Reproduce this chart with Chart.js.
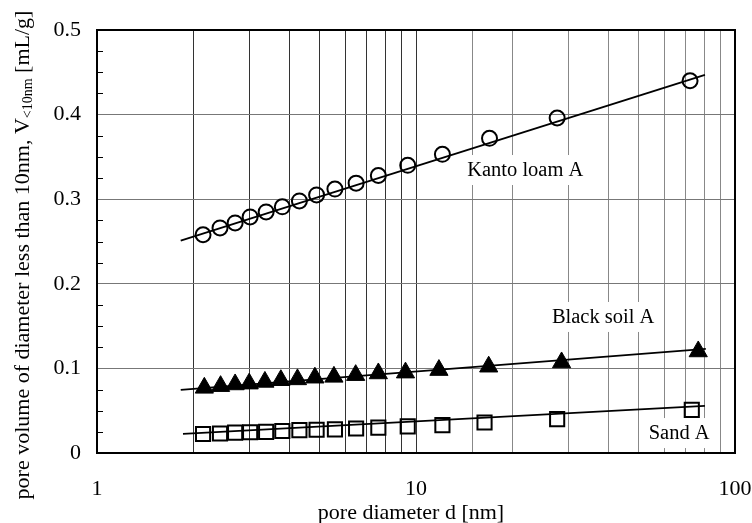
<!DOCTYPE html>
<html><head><meta charset="utf-8">
<script src="https://cdn.jsdelivr.net/npm/chart.js@4.4.0/dist/chart.umd.min.js"></script>
<style>html,body{margin:0;padding:0;background:#fff;}</style>
</head><body>
<canvas id="c" width="752" height="523"></canvas>
<script>
// ---- data ----
const kantoX = [2.15, 2.43, 2.71, 3.02, 3.39, 3.81, 4.31, 4.88, 5.57, 6.49, 7.62, 9.42, 12.1, 17.0, 27.7, 72.3];
const kantoY = [0.258, 0.266, 0.272, 0.279, 0.285, 0.291, 0.298, 0.305, 0.312, 0.319, 0.328, 0.340, 0.353, 0.372, 0.396, 0.440];
const blackX = [2.17, 2.44, 2.71, 3.00, 3.36, 3.77, 4.25, 4.82, 5.53, 6.47, 7.62, 9.27, 11.8, 16.9, 28.6, 76.7];
const blackY = [0.077, 0.079, 0.081, 0.082, 0.084, 0.086, 0.087, 0.089, 0.090, 0.092, 0.094, 0.095, 0.098, 0.102, 0.107, 0.120];
const sandX  = [2.15, 2.43, 2.71, 3.02, 3.39, 3.81, 4.31, 4.88, 5.57, 6.49, 7.62, 9.42, 12.1, 16.4, 27.7, 73.2];
const sandY  = [0.0225, 0.023, 0.024, 0.0245, 0.025, 0.026, 0.027, 0.0275, 0.028, 0.029, 0.030, 0.0315, 0.033, 0.036, 0.040, 0.051];
const kantoFitX = [1.83, 80.5], kantoFitY = [0.251, 0.447];
const blackFitX = [1.83, 81.0], blackFitY = [0.0745, 0.123];
const sandFitX  = [1.86, 80.5], sandFitY  = [0.0225, 0.0556];
const xTickLabels = [1, 10, 100];
const yTickLabels = [0, 0.1, 0.2, 0.3, 0.4, 0.5];
const seriesLabels = [
  {text: 'Kanto loam A', x: 22.0, y: 0.3345},
  {text: 'Black soil A', x: 38.6, y: 0.1608},
  {text: 'Sand A', x: 66.8, y: 0.0236}
];
const xTitle = 'pore diameter d [nm]';
const yTitleMain = 'pore volume of diameter less than 10nm, V';
const yTitleSub = '<10nm';
const yTitleEnd = ' [mL/g]';

const FONT = '"Liberation Serif", "Times New Roman", serif';
const pts = (xs, ys) => xs.map((x, i) => ({x, y: ys[i]}));
const isMajorY = v => Math.abs(Math.round(v * 10) - v * 10) < 1e-6;

const decor = {
  id: 'decor',
  afterDatasetsDraw(chart) {
    const ctx = chart.ctx, xs = chart.scales.x, ys = chart.scales.y;
    ctx.save();
    ctx.font = '20.5px ' + FONT;
    ctx.textAlign = 'center';
    ctx.textBaseline = 'middle';
    seriesLabels.forEach(l => {
      const px = xs.getPixelForValue(l.x), py = ys.getPixelForValue(l.y);
      const w = ctx.measureText(l.text).width;
      ctx.fillStyle = '#fff';
      ctx.fillRect(px - w / 2 - 4, py - 15, w + 8, 30);
      ctx.fillStyle = '#000';
      ctx.fillText(l.text, px, py + 1);
    });
    ctx.restore();
  },
  afterDraw(chart) {
    const ctx = chart.ctx, a = chart.chartArea, ys = chart.scales.y;
    ctx.save();
    ctx.strokeStyle = '#000';
    ctx.lineWidth = 1;
    ys.ticks.forEach(t => {
      if (!isMajorY(t.value)) {
        const py = Math.round(ys.getPixelForValue(t.value)) + 0.5;
        ctx.beginPath(); ctx.moveTo(a.left, py); ctx.lineTo(a.left + 6, py); ctx.stroke();
      }
    });
    ctx.lineWidth = 2;
    ctx.strokeRect(a.left, a.top, a.right - a.left, a.bottom - a.top);
    ctx.fillStyle = '#000';
    ctx.font = '22px ' + FONT;
    ctx.textAlign = 'center';
    ctx.textBaseline = 'middle';
    ctx.fillText(xTitle, (a.left + a.right) / 2 - 5, 513);
    ctx.translate(23, 255);
    ctx.rotate(-Math.PI / 2);
    ctx.textAlign = 'left';
    const fMain = '22px ' + FONT, fSub = '14px ' + FONT;
    ctx.font = fMain; const w1 = ctx.measureText(yTitleMain).width; const w3 = ctx.measureText(yTitleEnd).width;
    ctx.font = fSub; const w2 = ctx.measureText(yTitleSub).width;
    let x0 = -(w1 + w2 + w3) / 2;
    ctx.font = fMain; ctx.fillText(yTitleMain, x0, 0); x0 += w1;
    ctx.font = fSub; ctx.fillText(yTitleSub, x0, 5); x0 += w2;
    ctx.font = fMain; ctx.fillText(yTitleEnd, x0, 0);
    ctx.restore();
  }
};

const lineDs = (xs, ys) => ({
  data: pts(xs, ys), showLine: true, pointRadius: 0, borderColor: '#000', borderWidth: 1.8, fill: false
});

new Chart(document.getElementById('c'), {
  type: 'scatter',
  data: {
    datasets: [
      lineDs(kantoFitX, kantoFitY),
      lineDs(blackFitX, blackFitY),
      lineDs(sandFitX, sandFitY),
      {data: pts(kantoX, kantoY), pointStyle: 'circle', pointRadius: 7.5, borderWidth: 2,
       borderColor: '#000', backgroundColor: 'rgba(0,0,0,0)'},
      {data: pts(blackX, blackY), pointStyle: 'triangle', pointRadius: 10.5, borderWidth: 1,
       borderColor: '#000', backgroundColor: '#000'},
      {data: pts(sandX, sandY), pointStyle: 'rect', pointRadius: 10, borderWidth: 2,
       borderColor: '#000', backgroundColor: 'rgba(0,0,0,0)'}
    ]
  },
  options: {
    responsive: false,
    animation: false,
    layout: {padding: {top: 30, right: 17, left: 0, bottom: 0}},
    plugins: {legend: {display: false}, tooltip: {enabled: false}},
    scales: {
      x: {
        type: 'logarithmic', min: 1, max: 100,
        border: {display: false},
        grid: {
          drawTicks: false,
          color: c => (c.tick && c.tick.value > 10) ? '#888' : '#333',
          lineWidth: 1
        },
        ticks: {
          autoSkip: false, maxRotation: 0, padding: 23, color: '#000',
          font: {family: FONT, size: 22},
          callback: v => xTickLabels.includes(v) ? String(v) : ''
        },
        afterFit: s => { s.height = 70; s.paddingRight = 0; s.paddingLeft = 0; }
      },
      y: {
        min: 0, max: 0.5,
        border: {display: false},
        grid: {
          drawTicks: false,
          color: c => (c.tick && isMajorY(c.tick.value)) ? '#777' : 'rgba(0,0,0,0)',
          lineWidth: 1
        },
        ticks: {
          stepSize: 0.025, autoSkip: false, padding: 16, color: '#000',
          font: {family: FONT, size: 22},
          callback: v => {
            if (!isMajorY(v)) return '';
            const r = Math.round(v * 10) / 10;
            return yTickLabels.includes(r) ? String(r) : '';
          }
        },
        afterFit: s => { s.width = 97; s.paddingTop = 0; s.paddingBottom = 0; }
      }
    }
  },
  plugins: [decor]
});
</script>
</body></html>
